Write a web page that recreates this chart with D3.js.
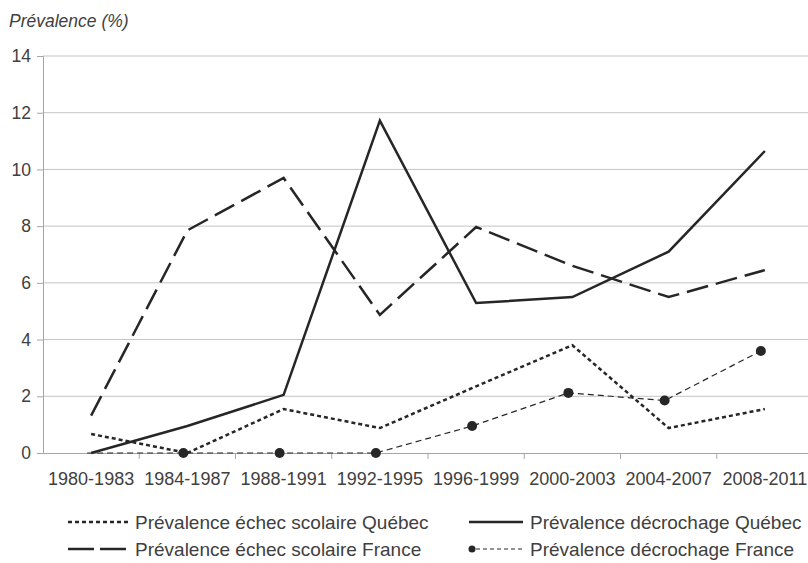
<!DOCTYPE html>
<html>
<head>
<meta charset="utf-8">
<script src="https://cdn.jsdelivr.net/npm/d3@7"></script>
<style>
body { margin: 0; background: #fff; }
svg { display: block; font-family: "Liberation Sans", Arial, sans-serif; }
</style>
</head>
<body>
<script>
var periods = ["1980-1983", "1984-1987", "1988-1991", "1992-1995", "1996-1999", "2000-2003", "2004-2007", "2008-2011"];
var echecQuebec = [0.67, 0, 1.55, 0.88, 2.35, 3.8, 0.88, 1.55];
var decrochageQuebec = [0, 0.95, 2.05, 11.72, 5.29, 5.5, 7.1, 10.65];
var echecFrance = [1.32, 7.85, 9.7, 4.87, 7.97, 6.6, 5.5, 6.45];
var decrochageFrance = [0, 0, 0, 0, 0.95, 2.12, 1.85, 3.6];
var yTicks = [0, 2, 4, 6, 8, 10, 12, 14];

var W = 808, H = 563;
var mLeft = 43, mRight = 813, mTop = 56, mBottom = 453;
var ink = "#262626", textColor = "#404040", axisColor = "#a6a6a6";

var svg = d3.select("body").append("svg")
  .attr("width", W).attr("height", H);

var x = d3.scaleBand().domain(periods).range([mLeft, mRight]);
var y = d3.scaleLinear().domain([0, 14]).range([mBottom, mTop]);

// grid
svg.append("g").selectAll("line").data(yTicks.filter(function(d){ return d > 0; }))
  .enter().append("line")
  .attr("x1", mLeft).attr("x2", W)
  .attr("y1", function(d){ return y(d); }).attr("y2", function(d){ return y(d); })
  .attr("stroke", "#c4c4c4").attr("stroke-width", 1);

// y axis
var yAxis = svg.append("g").attr("transform", "translate(" + mLeft + ",0)")
  .call(d3.axisLeft(y).tickValues(yTicks).tickSize(6).tickPadding(6));
yAxis.select(".domain").attr("stroke", axisColor);
yAxis.selectAll(".tick line").attr("stroke", axisColor);
yAxis.selectAll("text").attr("font-size", 17.5).attr("fill", textColor)
  .attr("font-family", "Liberation Sans, Arial, sans-serif");

// x axis
var xAxis = svg.append("g").attr("transform", "translate(0," + mBottom + ")")
  .call(d3.axisBottom(x).tickSize(0).tickPadding(19));
xAxis.select(".domain").attr("stroke", axisColor);
xAxis.selectAll("text").attr("font-size", 18).attr("fill", textColor)
  .attr("font-family", "Liberation Sans, Arial, sans-serif");
svg.append("g").selectAll("line").data(periods.slice(1))
  .enter().append("line")
  .attr("x1", function(d){ return x(d); }).attr("x2", function(d){ return x(d); })
  .attr("y1", mBottom).attr("y2", mBottom + 6)
  .attr("stroke", axisColor);

svg.append("text").attr("x", 9).attr("y", 27)
  .attr("font-size", 17.5).attr("font-style", "italic").attr("fill", textColor)
  .text("Prévalence (%)");

var series = [
  { name: "Prévalence décrochage France", values: decrochageFrance, width: 1.2, dash: "6,4", dots: true, shift: -4 },
  { name: "Prévalence échec scolaire Québec", values: echecQuebec, width: 2.5, dash: "4,3", dots: false, shift: 0 },
  { name: "Prévalence échec scolaire France", values: echecFrance, width: 2.5, dash: "22,8", dots: false, shift: 0 },
  { name: "Prévalence décrochage Québec", values: decrochageQuebec, width: 2.5, dash: null, dots: false, shift: 0 }
];

series.forEach(function(s){
  var px = function(i){ return x(periods[i]) + x.bandwidth() / 2 + s.shift; };
  var line = d3.line()
    .x(function(d, i){ return px(i); })
    .y(function(d){ return y(d); });
  svg.append("path").datum(s.values)
    .attr("d", line)
    .attr("fill", "none")
    .attr("stroke", ink)
    .attr("stroke-width", s.width)
    .attr("stroke-dasharray", s.dash);
  if (s.dots) {
    svg.append("g").selectAll("circle").data(s.values.slice(1))
      .enter().append("circle")
      .attr("cx", function(d, i){ return px(i + 1); })
      .attr("cy", function(d){ return y(d); })
      .attr("r", 5)
      .attr("fill", ink);
  }
});

// legend
var legend = [
  { s: series[1], col: 0, row: 0 },
  { s: series[3], col: 1, row: 0 },
  { s: series[2], col: 0, row: 1 },
  { s: series[0], col: 1, row: 1 }
];
var colX = [68, 469], sampleLen = [60, 54];
var lg = svg.append("g").selectAll("g").data(legend).enter().append("g")
  .attr("transform", function(d){ return "translate(" + colX[d.col] + "," + (d.row ? 549 : 522) + ")"; });
lg.append("line")
  .attr("x1", 0).attr("x2", function(d){ return sampleLen[d.col]; }).attr("y1", 0).attr("y2", 0)
  .attr("stroke", ink)
  .attr("stroke-width", function(d){ return d.s.width; })
  .attr("stroke-dasharray", function(d){ return d.s.dots ? "4,3" : (d.s.dash === "22,8" ? "26,6" : d.s.dash); });
lg.filter(function(d){ return d.s.dots; }).append("circle")
  .attr("cx", 3).attr("cy", 0).attr("r", 3.5).attr("fill", ink);
lg.append("text")
  .attr("x", function(d){ return sampleLen[d.col] + 7; }).attr("y", 6.5)
  .attr("font-size", 19).attr("fill", textColor)
  .text(function(d){ return d.s.name; });
</script>
</body>
</html>
